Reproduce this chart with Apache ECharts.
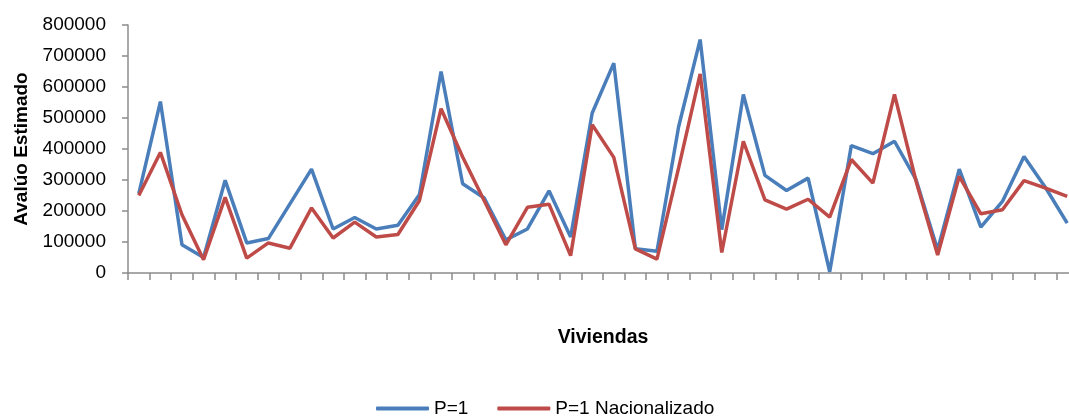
<!DOCTYPE html>
<html>
<head>
<meta charset="utf-8">
<script src="https://cdn.jsdelivr.net/npm/echarts@6/dist/echarts.min.js"></script>
<style>
  html, body { margin: 0; padding: 0; background: #ffffff; }
  #chart { width: 1069px; height: 416px; }
</style>
</head>
<body>
<div id="chart"></div>
<script>
// Viviendas (one category per house)
const viviendas = Array.from({ length: 44 }, (_, i) => String(i + 1));

// Avalúo estimado, P=1
const p1 = [256000, 553000, 91000, 50000, 299000, 97000, 111000, 223000, 335000, 142000,
            179000, 142000, 154000, 253000, 650000, 288000, 242000, 107000, 142000, 265000,
            116000, 516000, 677000, 78000, 70000, 471000, 753000, 140000, 576000, 315000,
            266000, 306000, 4000, 411000, 385000, 425000, 301000, 75000, 335000, 148000,
            231000, 376000, 275000, 161000];

// Avalúo estimado, P=1 Nacionalizado
const p1Nacional = [250000, 389000, 188000, 43000, 244000, 48000, 97000, 80000, 210000, 113000,
                    164000, 116000, 124000, 234000, 530000, 374000, 233000, 91000, 212000, 222000,
                    56000, 478000, 373000, 78000, 45000, 338000, 642000, 66000, 425000, 236000,
                    206000, 238000, 180000, 366000, 290000, 576000, 296000, 58000, 312000, 191000,
                    204000, 298000, 274000, 247000];

const yTicks = { min: 0, max: 800000, step: 100000 };

const FONT = '"Liberation Sans", Arial, sans-serif';
const AXIS_COLOR = '#8c8c8c';

const chart = echarts.init(document.getElementById('chart'), null, { renderer: 'canvas' });

chart.setOption({
  animation: false,
  backgroundColor: '#ffffff',
  textStyle: { fontFamily: FONT },
  grid: { left: 128, top: 25, width: 950, height: 248, containLabel: false, outerBoundsMode: 'none' },
  legend: {
    left: 371,
    top: 394,
    itemWidth: 53,
    itemHeight: 4,
    itemGap: 29,
    icon: 'roundRect',
    textStyle: { fontFamily: FONT, fontSize: 19, color: '#000000', padding: [0, 0, 0, 0] },
    data: ['P=1', 'P=1 Nacionalizado']
  },
  xAxis: {
    type: 'category',
    data: viviendas,
    boundaryGap: true,
    name: 'Viviendas',
    nameLocation: 'middle',
    nameGap: 55,
    nameTextStyle: { fontFamily: FONT, fontSize: 19.5, fontWeight: 'bold', color: '#000000' },
    axisLine: { lineStyle: { color: AXIS_COLOR, width: 1.5 } },
    axisTick: { show: true, interval: 0, length: 7, lineStyle: { color: AXIS_COLOR, width: 1.5 } },
    axisLabel: { show: false },
    splitLine: { show: false }
  },
  yAxis: {
    type: 'value',
    min: yTicks.min,
    max: yTicks.max,
    interval: yTicks.step,
    name: 'Avalúo Estimado',
    nameLocation: 'middle',
    nameRotate: 90,
    nameGap: 93,
    nameTextStyle: { fontFamily: FONT, fontSize: 19, fontWeight: 'bold', color: '#000000' },
    axisLine: { show: true, lineStyle: { color: AXIS_COLOR, width: 1.5 } },
    axisTick: { show: true, length: 6, lineStyle: { color: AXIS_COLOR, width: 1.5 } },
    axisLabel: { fontFamily: FONT, fontSize: 19, color: '#000000', margin: 22, formatter: v => String(v) },
    splitLine: { show: false }
  },
  series: [
    {
      name: 'P=1',
      type: 'line',
      data: p1,
      symbol: 'none',
      lineStyle: { color: '#4A7EBB', width: 3.5 },
      itemStyle: { color: '#4A7EBB' },
      z: 2
    },
    {
      name: 'P=1 Nacionalizado',
      type: 'line',
      data: p1Nacional,
      symbol: 'none',
      lineStyle: { color: '#BE4B48', width: 3.5 },
      itemStyle: { color: '#BE4B48' },
      z: 3
    }
  ]
});
</script>
</body>
</html>
